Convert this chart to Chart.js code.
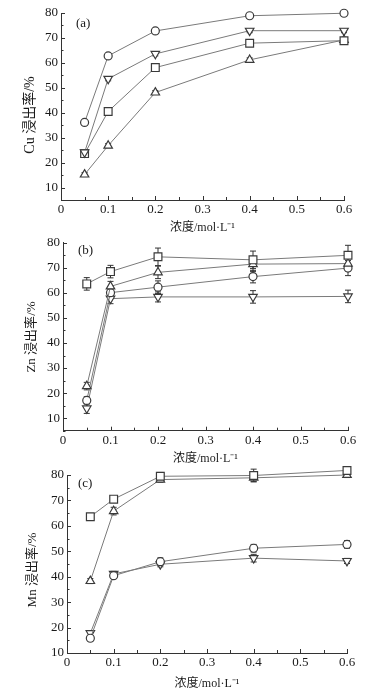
<!DOCTYPE html>
<html><head><meta charset="utf-8">
<script src="https://cdn.jsdelivr.net/npm/chart.js@4/dist/chart.umd.min.js"></script>
<style>
html,body{margin:0;padding:0;background:#fff;width:369px;height:693px;overflow:hidden}
.p{position:absolute;left:0;width:369px}
</style></head><body>
<div class="p" style="top:0;height:235px"><canvas id="ca"></canvas></div>
<div class="p" style="top:232px;height:234px"><canvas id="cb"></canvas></div>
<div class="p" style="top:462px;height:231px"><canvas id="cc"></canvas></div>
<script>
// ---- data ----
const conc = [0.05, 0.1, 0.2, 0.4, 0.6];
const xTicks = [0, 0.1, 0.2, 0.3, 0.4, 0.5, 0.6];
const yTicks = [10, 20, 30, 40, 50, 60, 70, 80];
const xTitle = '浓度/mol·L⁻¹';

// (a) Cu
const cuCircle = [36.1, 62.8, 72.8, 78.9, 79.9];
const cuDown   = [24.1, 53.6, 63.6, 72.9, 72.9];
const cuSquare = [23.6, 40.5, 58.1, 67.9, 68.9];
const cuUp     = [15.2, 26.8, 48.1, 61.2, 69.2];
const cuErr    = [0.8, 0.8, 0.8, 0.8, 0.8];

// (b) Zn
const znSquare = [63.6, 68.5, 74.4, 73.2, 75.0];
const znUp     = [22.8, 62.6, 68.2, 71.5, 71.7];
const znCircle = [17.1, 60.1, 62.3, 66.5, 69.9];
const znDown   = [13.9, 57.7, 58.4, 58.4, 58.6];
const znSquareErr = [2.5, 2.5, 3.5, 3.5, 4.0];
const znUpErr     = [1.5, 2.0, 2.5, 3.0, 3.0];
const znCircleErr = [1.5, 2.0, 2.5, 2.5, 3.0];
const znDownErr   = [2.0, 2.0, 2.0, 2.5, 2.5];

// (c) Mn
const mnSquare = [63.6, 70.5, 79.5, 79.8, 81.8];
const mnUp     = [38.3, 65.8, 78.2, 78.9, 80.0];
const mnCircle = [15.8, 40.4, 45.9, 51.2, 52.7];
const mnDown   = [17.8, 41.1, 44.9, 47.3, 46.2];
const mnSquareErr = [1.0, 1.0, 1.5, 2.5, 1.5];
const mnUpErr     = [1.0, 1.5, 1.0, 1.5, 1.0];
const mnCircleErr = [1.0, 1.0, 1.5, 1.5, 1.5];
const mnDownErr   = [1.0, 1.0, 1.0, 1.5, 1.0];

// ---- styling ----
const TXT = '#1a1a1a';
const FONT = '"Liberation Serif", "Noto Sans CJK SC", serif';
const markers = {
  circle: {pointStyle: 'circle', pointRotation: 0, pointRadius: 4},
  square: {pointStyle: 'rect', pointRotation: 0, pointRadius: 5.5},
  up:     {pointStyle: 'triangle', pointRotation: 0, pointRadius: 4.9},
  down:   {pointStyle: 'triangle', pointRotation: 180, pointRadius: 4.9}
};
function ds(vals, err, kind) {
  return Object.assign({
    data: conc.map((x, i) => ({x: x, y: vals[i]})),
    err: err,
    borderColor: '#7a7a7a', borderWidth: 1, tension: 0, clip: false,
    pointBorderColor: '#3a3a3a', pointBorderWidth: 1.2,
    pointBackgroundColor: '#ffffff'
  }, markers[kind]);
}

const decor = {
  id: 'decor',
  beforeDatasetsDraw(chart) {
    const ctx = chart.ctx, xs = chart.scales.x, ys = chart.scales.y;
    ctx.save();
    ctx.strokeStyle = '#333'; ctx.lineWidth = 1;
    chart.data.datasets.forEach(d => {
      if (!d.err) return;
      d.data.forEach((p, i) => {
        const e = d.err[i]; if (!e) return;
        const px = xs.getPixelForValue(p.x);
        const y1 = ys.getPixelForValue(p.y - e), y2 = ys.getPixelForValue(p.y + e);
        ctx.beginPath();
        ctx.moveTo(px, y1); ctx.lineTo(px, y2);
        ctx.moveTo(px - 3, y1); ctx.lineTo(px + 3, y1);
        ctx.moveTo(px - 3, y2); ctx.lineTo(px + 3, y2);
        ctx.stroke();
      });
    });
    ctx.restore();
  },
  afterDraw(chart, args, opts) {
    const ctx = chart.ctx, xs = chart.scales.x, ys = chart.scales.y, a = chart.chartArea;
    ctx.save();
    ctx.strokeStyle = '#333'; ctx.lineWidth = 1;
    ctx.beginPath();
    for (let v = 0; v <= 12; v++) {
      const px = Math.round(xs.getPixelForValue(v * 0.05)) + 0.5;
      const len = v % 2 === 0 ? 4 : 3;
      ctx.moveTo(px, a.bottom); ctx.lineTo(px, a.bottom - len);
    }
    for (let v = Math.ceil(ys.min / 5) * 5; v <= ys.max; v += 5) {
      const py = Math.round(ys.getPixelForValue(v)) + 0.5;
      const len = v % 10 === 0 ? 4 : 2.5;
      ctx.moveTo(a.left, py); ctx.lineTo(a.left + len, py);
    }
    ctx.stroke();
    ctx.fillStyle = TXT;
    ctx.font = '13px ' + FONT;
    ctx.textBaseline = 'middle';
    ctx.textAlign = 'left';
    ctx.fillText(opts.text, a.left + opts.dx, a.top + opts.dy);
    // y-axis title
    ctx.translate(opts.ytx, opts.yty);
    ctx.rotate(-Math.PI / 2);
    ctx.textAlign = 'center';
    ctx.font = opts.yfs + 'px ' + FONT;
    ctx.fillText(opts.ytitle, 0, 0);
    ctx.restore();
  }
};

function makeChart(id, datasets, yTitle, tag, lay) {
  new Chart(document.getElementById(id), {
    type: 'line',
    data: {datasets: datasets},
    options: {
      responsive: true, maintainAspectRatio: false, animation: false,
      layout: {padding: {left: 0, right: lay.right, top: lay.top, bottom: 0}},
      plugins: {legend: {display: false}, tooltip: {enabled: false},
        decor: {text: tag, dx: lay.tx, dy: lay.ty, ytitle: yTitle, ytx: lay.ytx, yty: lay.yty, yfs: lay.yfs}},
      scales: {
        x: {
          type: 'linear', min: 0, max: 0.6,
          afterBuildTicks: s => { s.ticks = xTicks.map(v => ({value: v})); },
          afterFit: s => { s.height = lay.xh; },
          grid: {drawOnChartArea: false, drawTicks: false},
          border: {color: '#333', width: 1},
          ticks: {padding: 2, color: TXT, font: {family: FONT, size: 13}, maxRotation: 0,
            callback: v => String(v)},
          title: {display: true, text: xTitle, color: TXT, font: {family: FONT, size: 12},
            padding: {top: 0, bottom: lay.xtb}}
        },
        y: {
          type: 'linear', min: lay.ymin, max: 80,
          afterBuildTicks: s => { s.ticks = yTicks.map(v => ({value: v})); },
          afterFit: s => { s.width = lay.yw; },
          grid: {drawOnChartArea: false, drawTicks: false},
          border: {color: '#333', width: 1},
          ticks: {padding: 3, color: TXT, font: {family: FONT, size: 13}, callback: v => String(v)},
          title: {display: false}
        }
      }
    },
    plugins: [decor]
  });
}

makeChart('ca', [
  ds(cuCircle, cuErr, 'circle'), ds(cuDown, cuErr, 'down'),
  ds(cuSquare, cuErr, 'square'), ds(cuUp, cuErr, 'up')
], 'Cu 浸出率/%', '(a)', {right: 25, top: 13, xh: 35, yw: 61, ymin: 5, xtb: 0, tx: 15, ty: 11, ytx: 30, yty: 115, yfs: 14});

makeChart('cb', [
  ds(znSquare, znSquareErr, 'square'), ds(znUp, znUpErr, 'up'),
  ds(znCircle, znCircleErr, 'circle'), ds(znDown, znDownErr, 'down')
], 'Zn 浸出率/%', '(b)', {right: 21, top: 8, xh: 35.3, yw: 63, ymin: 5, xtb: 0, tx: 15, ty: 8, ytx: 32, yty: 105, yfs: 13});

makeChart('cc', [
  ds(mnSquare, mnSquareErr, 'square'), ds(mnUp, mnUpErr, 'up'),
  ds(mnCircle, mnCircleErr, 'circle'), ds(mnDown, mnDownErr, 'down')
], 'Mn 浸出率/%', '(c)', {right: 22, top: 13, xh: 40, yw: 67, ymin: 10, xtb: 2, tx: 11, ty: 9, ytx: 33, yty: 108, yfs: 13});
</script>
</body></html>
